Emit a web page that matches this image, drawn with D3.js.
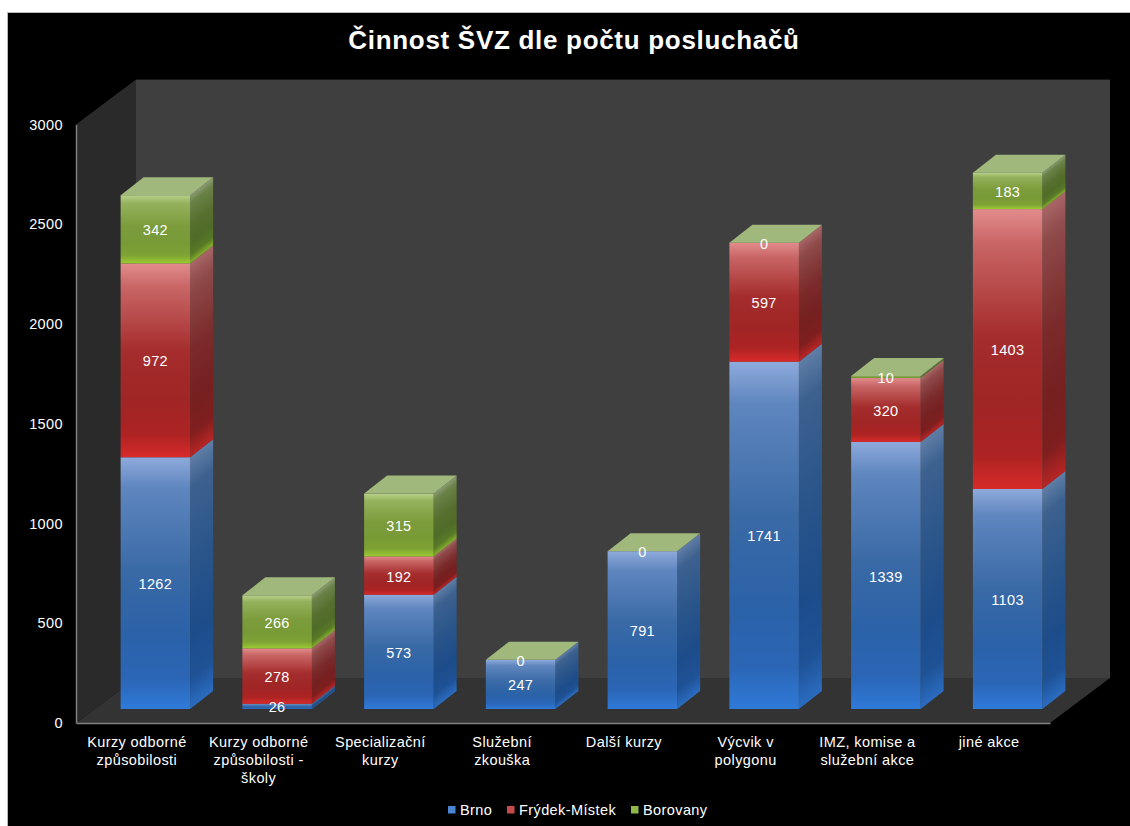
<!DOCTYPE html>
<html>
<head>
<meta charset="utf-8">
<script src="https://cdn.jsdelivr.net/npm/d3@7"></script>
<style>
  html, body { margin: 0; padding: 0; background: #fff; }
  text { font-family: "Liberation Sans", Arial, sans-serif; fill: #fff; letter-spacing: 0.4px; }
</style>
</head>
<body>
<div id="chart"></div>
<script>
// data
const categories = [
  "Kurzy odborné\nzpůsobilosti",
  "Kurzy odborné\nzpůsobilosti -\nškoly",
  "Specializační\nkurzy",
  "Služební\nzkouška",
  "Další kurzy",
  "Výcvik v\npolygonu",
  "IMZ, komise a\nslužební akce",
  "jiné akce"
];
const seriesNames = ["Brno", "Frýdek-Místek", "Borovany"];
const brno = [1262, 26, 573, 247, 791, 1741, 1339, 1103];
const frydek = [972, 278, 192, 0, 0, 597, 320, 1403];
const borovany = [342, 266, 315, 0, 0, 0, 10, 183];
const yTicks = [0, 500, 1000, 1500, 2000, 2500, 3000];

const W = 1130, H = 826;
const left = 76, right = 1050, yBase = 723, yTop = 124.6;
const wallDx = 60, wallDy = -45;    // depth of the 3d box
const barDx = 18.5, barDy = -14;    // how far in the bars stand
const sideDx = 23, sideDy = -18;    // depth of one bar
const barWidth = 69.5;

const svg = d3.select("#chart").append("svg")
  .attr("width", W).attr("height", H)
  .style("display", "block");

svg.append("rect").attr("x", 7).attr("y", 12).attr("width", W - 7).attr("height", H - 12)
  .attr("fill", "#bbb");
svg.append("rect").attr("x", 8).attr("y", 13).attr("width", W - 8).attr("height", H - 13)
  .attr("fill", "#000");

const x = d3.scaleBand().domain(categories).range([left, right]);
const y = d3.scaleLinear().domain([0, 3000]).range([yBase, yTop]);

// the colours of each series, front face and side face
const palette = [
  { front: ["#8eaadb", "#5f86bf", "#3a6aa6", "#2b62a8", "#2b66b6", "#2f7ad9"],
    side:  ["#5f7ea6", "#3d618f", "#28548a", "#1d4c8a", "#1e5296", "#2b6cc0"],
    top: "#8faad0" },
  { front: ["#e38c8c", "#c96666", "#a52d2d", "#a02525", "#ad2323", "#d82a2a"],
    side:  ["#a86666", "#8f4a4a", "#7b2a2a", "#762020", "#7f1e1e", "#b82525"],
    top: "#d08f8f" },
  { front: ["#b8d08a", "#94b25c", "#7c9c3c", "#789a36", "#7ea234", "#9ccc32"],
    side:  ["#8b9b72", "#6a8248", "#566f2e", "#506c28", "#587a26", "#86ae2c"],
    top: "#a0b87c" }
];
const gradStops = [0, 0.12, 0.45, 0.7, 0.88, 1];

const defs = svg.append("defs");
function addGradient(id, colors, y0, y1, transform) {
  const g = defs.append("linearGradient").attr("id", id)
    .attr("gradientUnits", "userSpaceOnUse")
    .attr("x1", 0).attr("x2", 0).attr("y1", y0).attr("y2", y1);
  if (transform) g.attr("gradientTransform", transform);
  colors.forEach((c, i) => g.append("stop").attr("offset", gradStops[i]).attr("stop-color", c));
}

const poly = pts => pts.map(p => p.join(",")).join(" ");

// walls and floor
const walls = svg.append("g");
walls.append("polygon")
  .attr("points", poly([[left, yTop], [left + wallDx, yTop + wallDy], [left + wallDx, yBase + wallDy], [left, yBase]]))
  .attr("fill", "#2a2a2a");
walls.append("rect")
  .attr("x", left + wallDx).attr("y", yTop + wallDy)
  .attr("width", right - left).attr("height", yBase - yTop)
  .attr("fill", "#3f3f3f");
walls.append("polygon")
  .attr("points", poly([[left, yBase], [left + wallDx, yBase + wallDy], [right + wallDx, yBase + wallDy], [right, yBase]]))
  .attr("fill", "#333");

// axes
const yAxis = svg.append("g").attr("transform", `translate(${left},0)`)
  .call(d3.axisLeft(y).tickValues(yTicks).tickSize(0).tickPadding(13).tickFormat(d3.format("d")));
yAxis.select(".domain").attr("stroke", "#808080").attr("stroke-width", 1.5);
yAxis.selectAll("text").attr("font-size", 14.5).attr("fill", "#fff").style("font-family", null);

const xAxis = svg.append("g").attr("transform", `translate(0,${yBase})`)
  .call(d3.axisBottom(x).tickSize(0).tickPadding(0));
xAxis.select(".domain").attr("stroke", "#808080").attr("stroke-width", 1.5);
xAxis.selectAll("text").each(function(d) {
  const t = d3.select(this).text(null).attr("font-size", 14.5).attr("fill", "#fff").attr("y", 0).attr("dy", null);
  d.split("\n").forEach((line, i) => {
    t.append("tspan").attr("x", 0).attr("y", 24 + i * 17.8).text(line);
  });
});

// stacks
const rows = categories.map((c, i) => ({ cat: c, Brno: brno[i], "Frýdek-Místek": frydek[i], Borovany: borovany[i] }));
const stack = d3.stack().keys(seriesNames)(rows);
const barsG = svg.append("g");
const labelsG = svg.append("g");

categories.forEach((cat, ci) => {
  const x0 = x(cat) + (x.bandwidth() - barWidth) / 2 + barDx;
  const x1 = x0 + barWidth;
  const slope = sideDy / sideDx;
  const g = barsG.append("g");
  stack.forEach((layer, si) => {
    const d = layer[ci];
    const value = d[1] - d[0];
    const yLow = y(d[0]) + barDy, yHigh = y(d[1]) + barDy;
    const isTop = si === stack.length - 1;
    if (value > 0) {
      addGradient(`f${si}-${ci}`, palette[si].front, yHigh, yLow);
      // side gradient is skewed so its bands run along the slant of the face
      addGradient(`s${si}-${ci}`, palette[si].side, yHigh, yLow, `matrix(1,${slope},0,1,0,${-x1 * slope})`);
      g.append("polygon")
        .attr("points", poly([[x1, yHigh], [x1 + sideDx, yHigh + sideDy], [x1 + sideDx, yLow + sideDy], [x1, yLow]]))
        .attr("fill", `url(#s${si}-${ci})`);
      g.append("rect")
        .attr("x", x0).attr("y", yHigh)
        .attr("width", barWidth).attr("height", yLow - yHigh)
        .attr("fill", `url(#f${si}-${ci})`);
    }
    if (isTop) {
      g.append("polygon")
        .attr("points", poly([[x0, yHigh], [x0 + sideDx, yHigh + sideDy], [x1 + sideDx, yHigh + sideDy], [x1, yHigh]]))
        .attr("fill", palette[si].top);
    }
    // zero values of the green series still get a label, red zero ones do not
    if (value > 0 || si === 2) {
      labelsG.append("text")
        .attr("x", (x0 + x1) / 2).attr("y", (yLow + yHigh) / 2 + 1).attr("dy", "0.35em")
        .attr("text-anchor", "middle").attr("font-size", 14.5)
        .text(value);
    }
  });
});

svg.append("text").attr("x", 574).attr("y", 49).attr("text-anchor", "middle")
  .attr("font-size", 26).attr("font-weight", "bold")
  .style("letter-spacing", "0.7px")
  .text("Činnost ŠVZ dle počtu posluchačů");

// legend
const legendX = [448, 507, 631];
const legendColors = ["#4a85d0", "#c84a4a", "#8fb84a"];
const legend = svg.append("g").selectAll("g").data(seriesNames).join("g")
  .attr("transform", (d, i) => `translate(${legendX[i]},806)`);
legend.append("rect").attr("width", 7.5).attr("height", 7.5)
  .attr("fill", (d, i) => legendColors[i]);
legend.append("text").attr("x", 12).attr("y", 9).attr("font-size", 14.5).text(d => d);
</script>
</body>
</html>
